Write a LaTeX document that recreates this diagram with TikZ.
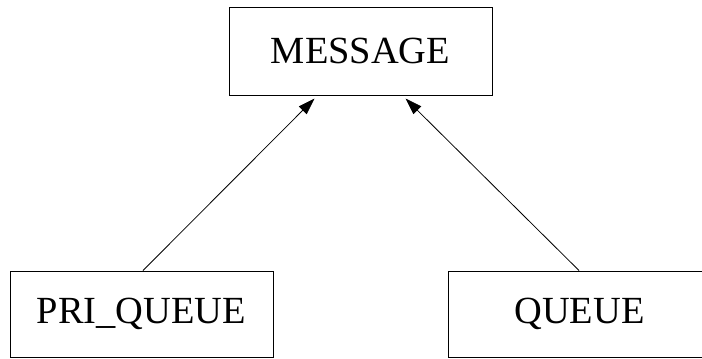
\documentclass[tikz,border=0pt]{standalone}
\usepackage{fontspec}
\setmainfont{Liberation Serif}
\usetikzlibrary{arrows.meta,calc}
\begin{document}
\begin{tikzpicture}[x=0.75pt,y=-0.75pt,
  cls/.style={draw,line width=0.75pt,minimum width=263*0.75pt,
    inner sep=0pt,font=\fontsize{28.8pt}{34pt}\selectfont},
  inherit/.style={line width=0.6pt,-{Triangle[length=12.5pt,width=8.2pt]}}]
  \useasboundingbox (0,0) rectangle (702,358);
  % class boxes
  \node[cls,minimum height=88*0.75pt] (msg) at (360.5,51) {MESSAGE};
  \node[cls,minimum height=86*0.75pt] (pq)  at (141.5,314) {PRI\_QUEUE};
  \node[cls,minimum height=86*0.75pt] (q)   at (579.5,314) {QUEUE};
  % arrow tips just under the MESSAGE box
  \coordinate (tl) at ($(msg.south west)+(86,3)$);
  \coordinate (tr) at ($(msg.south west)+(177,3)$);
  % inheritance arrows
  \draw[inherit] ($(pq.north)+(1.5,0)$) -- (tl);
  \draw[inherit] ($(q.north)+(-0.5,0)$) -- (tr);
\end{tikzpicture}
\end{document}
